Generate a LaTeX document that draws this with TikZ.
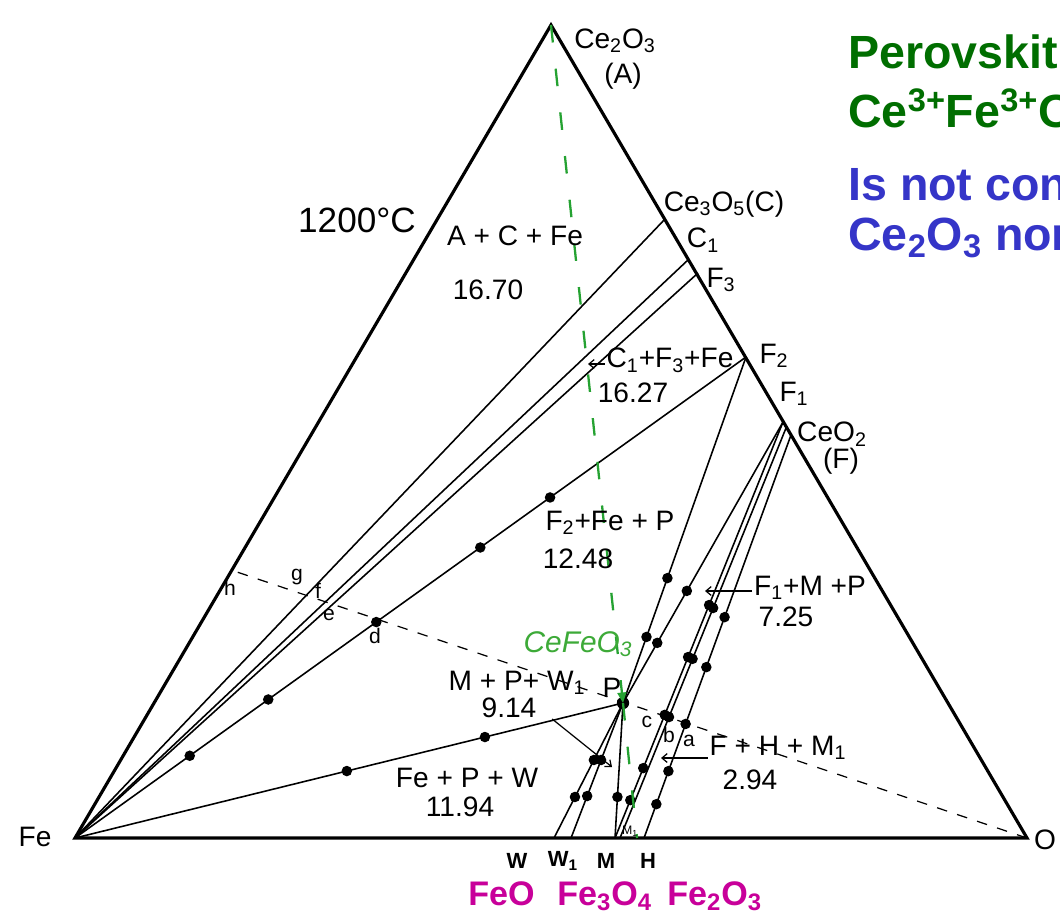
\documentclass[tikz,border=0pt]{standalone}
\usepackage{fontspec}
\setmainfont{Liberation Sans}
\usepackage{tikz}
\usetikzlibrary{arrows.meta,calc}
\definecolor{PerovGreen}{HTML}{006E00}
\definecolor{NoteBlue}{HTML}{3535C8}
\definecolor{OxMagenta}{HTML}{C8009A}
\definecolor{TieGreen}{HTML}{25A232}
\definecolor{HandGreen}{HTML}{3DAA38}
\newcommand\phfont{\fontsize{16}{18}\selectfont}
\newcommand\smfont{\fontsize{12}{14}\selectfont}
\newcommand\bigfont{\fontsize{26.5}{30}\selectfont\bfseries}

\begin{document}
\begin{tikzpicture}[
    x=0.02cm, y=-0.02cm,
    rim/.style={line width=1.8pt, line join=miter},
    tie/.style={line width=0.9pt},
    dot/.style={circle, fill=black, inner sep=0pt, minimum size=6pt},
    ptlab/.style={font=\phfont, inner sep=1pt},
    sublab/.style={font=\smfont, inner sep=0pt},
    wlab/.style={font=\fontsize{12.5}{14}\selectfont\bfseries, inner sep=0pt},
    note/.style={-{Straight Barb[length=3pt,width=5pt]}, line width=0.7pt},
    isoline/.style={line width=0.7pt, dash pattern=on 6pt off 6pt},
    ceffline/.style={TieGreen, line width=1.3pt, dash pattern=on 10pt off 15pt},
    bigtxt/.style={font=\bigfont, anchor=base west, inner sep=0pt},
    magtxt/.style={font=\fontsize{19.4}{22}\selectfont\bfseries, OxMagenta, anchor=base west, inner sep=0pt}
]
\path[fill=white, use as bounding box] (0,0) rectangle (1060,920);
\clip (0,0) rectangle (1060,920);

% corners and points of the phase triangle
\coordinate (Fe) at (75,838);
\coordinate (A) at (551,25);
\coordinate (O) at (1027,838);
\coordinate (C) at (665,219);
\coordinate (C1) at (689,259);
\coordinate (F3) at (698,273);
\coordinate (F2) at (746,357);
\coordinate (F1) at (783,422);
\coordinate (Fb) at (786,428);
\coordinate (F) at (791,435);
\coordinate (P) at (623,703);
\coordinate (W) at (554,838);
\coordinate (W1) at (571,838);
\coordinate (M) at (615,838);
\coordinate (M1) at (620,838);
\coordinate (H) at (644,838);
\coordinate (h) at (231,570);
\coordinate (G) at (637,838);

\draw[rim] (Fe) -- (A) -- (O) -- cycle;

% tie lines
\draw[tie] (Fe) -- (C);
\draw[tie] (Fe) -- (C1);
\draw[tie] (Fe) -- (F3);
\draw[tie] (Fe) -- (F2) node[dot,pos=.171]{} node[dot,pos=.288]{} node[dot,pos=.449] (d) {}
    node[dot,pos=.604]{} node[dot,pos=.708]{};
\draw[tie] (Fe) -- (P) node[dot,pos=.496]{} node[dot,pos=.748]{};
\draw[tie] (F2) -- (P) node[dot,pos=.639]{} node[dot,pos=.809]{};
\draw[tie] (F1) -- (P) node[dot,pos=.601]{} node[dot,pos=.786]{};
\draw[tie] (P) -- (W) node[dot,pos=.422]{} node[dot,pos=.696]{};
\draw[tie] (P) -- (W1) node[dot,pos=.422]{} node[dot,pos=.689]{};
\draw[tie] (P) -- (M) node[dot,pos=.696]{};
\draw[tie] (F1) -- (M) node[dot,pos=.44]{} node[dot,pos=.565]{} node[dot,pos=.704]{}
    node[dot,pos=.832]{} node[dot,pos=.909]{};
\draw[tie] (Fb) -- (M1) node[dot,pos=.439]{} node[dot,pos=.563]{} node[dot,pos=.705]{};
\draw[tie] (F) -- (H) node[dot,pos=.452]{} node[dot,pos=.576]{} node[dot,pos=.717]{}
    node[dot,pos=.834]{} node[dot,pos=.916]{};
\node[dot, minimum size=7pt] (Pdot) at (P) {};

% dashed lines
\draw[isoline] (O) -- (h);
\draw[ceffline, -{Triangle[length=6pt,width=5pt]}] (A) -- (P);
\draw[ceffline] (P) -- (G);

% corner labels
\node[ptlab] (lA) at (615,41) {Ce\textsubscript{2}O\textsubscript{3}};
\node[ptlab] (lAA) at (623,76) {(A)};
\node[ptlab] (lC) at (724,204) {Ce\textsubscript{3}O\textsubscript{5}(C)};
\node[ptlab] (lC1) at (703,240) {C\textsubscript{1}};
\node[ptlab] (lF3) at (721,280) {F\textsubscript{3}};
\node[ptlab] (lF2) at (774,356) {F\textsubscript{2}};
\node[ptlab] (lF1) at (794,394) {F\textsubscript{1}};
\node[ptlab] (lF) at (832,434) {CeO\textsubscript{2}};
\node[ptlab] (lFF) at (841,461) {(F)};
\node[ptlab] (lFe) at (35,837) {Fe};
\node[ptlab] (lO) at (1045,840) {O};
\node[font=\fontsize{20}{22}\selectfont] (temp) at (357,220) {1200°C};

% field labels
\node[ptlab] (rACFe) at (515,236) {A + C + Fe};
\node[ptlab] (nACFe) at (488,290) {16.70};
\node[ptlab] (rCFF) at (670,360) {C\textsubscript{1}+F\textsubscript{3}+Fe};
\node[ptlab] (nCFF) at (633,393) {16.27};
\node[ptlab] (rFFP) at (610,523) {F\textsubscript{2}+Fe + P};
\node[ptlab] (nFFP) at (578,559) {12.48};
\node[font=\fontsize{17}{19}\selectfont\itshape, text=HandGreen, inner sep=1pt] (lP3) at (578,644) {CeFeO\textsubscript{3}};
\node[ptlab] (lP) at (612,688) {P};
\node[ptlab] (rMPW) at (517,683) {M + P+ W\textsubscript{1}};
\node[ptlab] (nMPW) at (509,708) {9.14};
\node[ptlab] (rFMP) at (810,588) {F\textsubscript{1}+M +P};
\node[ptlab] (nFMP) at (786,617) {7.25};
\node[ptlab] (rFHM) at (778,748) {F + H + M\textsubscript{1}};
\node[ptlab] (nFHM) at (750,780) {2.94};
\node[ptlab] (rFPW) at (467,778) {Fe + P + W};
\node[ptlab] (nFPW) at (460,807) {11.94};

\coordinate (aCFF) at (588,364);
\coordinate (aMPW) at (612,767);
\coordinate (aFMP) at (705,591);
\coordinate (aFHM) at (661,758);
\draw[note] (rCFF.west |- aCFF) -- (aCFF);
\draw[note, shorten <=10pt] (nMPW.east) -- (aMPW);
\draw[note] (rFMP.west |- aFMP) -- (aFMP);
\draw[note] (rFHM.west |- aFHM) -- (aFHM);

% letters on the dashed line
\node[sublab] (lh) at (230,588) {h};
\node[sublab] (lg) at (297,577) {g};
\node[sublab] (lf) at (318,591) {f};
\node[sublab] (le) at (329,615) {e};
\node[sublab] (ld) at (375,636) {d};
\node[sublab] (lc) at (647,722) {c};
\node[sublab] (lb) at (669,735) {b};
\node[sublab] (la) at (689,741) {a};

% base labels
\node[wlab] (lW) at (517,861) {W};
\node[wlab] (lW1) at (563,861) {W\textsubscript{1}};
\node[wlab] (lM) at (606,861) {M};
\node[wlab] (lH) at (648,861) {H};
\node[font=\fontsize{7}{8}\selectfont, inner sep=0pt] (lM1) at (630,831) {M\textsubscript{1}};

\node[magtxt] (mW) at (468,905) {FeO};
\node[magtxt] (mM) at (557,905) {Fe\textsubscript{3}O\textsubscript{4}};
\node[magtxt] (mH) at (667,905) {Fe\textsubscript{2}O\textsubscript{3}};

% remarks
\node[bigtxt, text=PerovGreen] (t1) at (848,68) {Perovskit};
\node[bigtxt, text=PerovGreen] (t2) at (848,127) {Ce\textsuperscript{3+}Fe\textsuperscript{3+}O};
\node[bigtxt, text=NoteBlue] (t3) at (848,200) {Is not con};
\node[bigtxt, text=NoteBlue] (t4) at (848,250) {Ce\textsubscript{2}O\textsubscript{3} nor};
\end{tikzpicture}
\end{document}
